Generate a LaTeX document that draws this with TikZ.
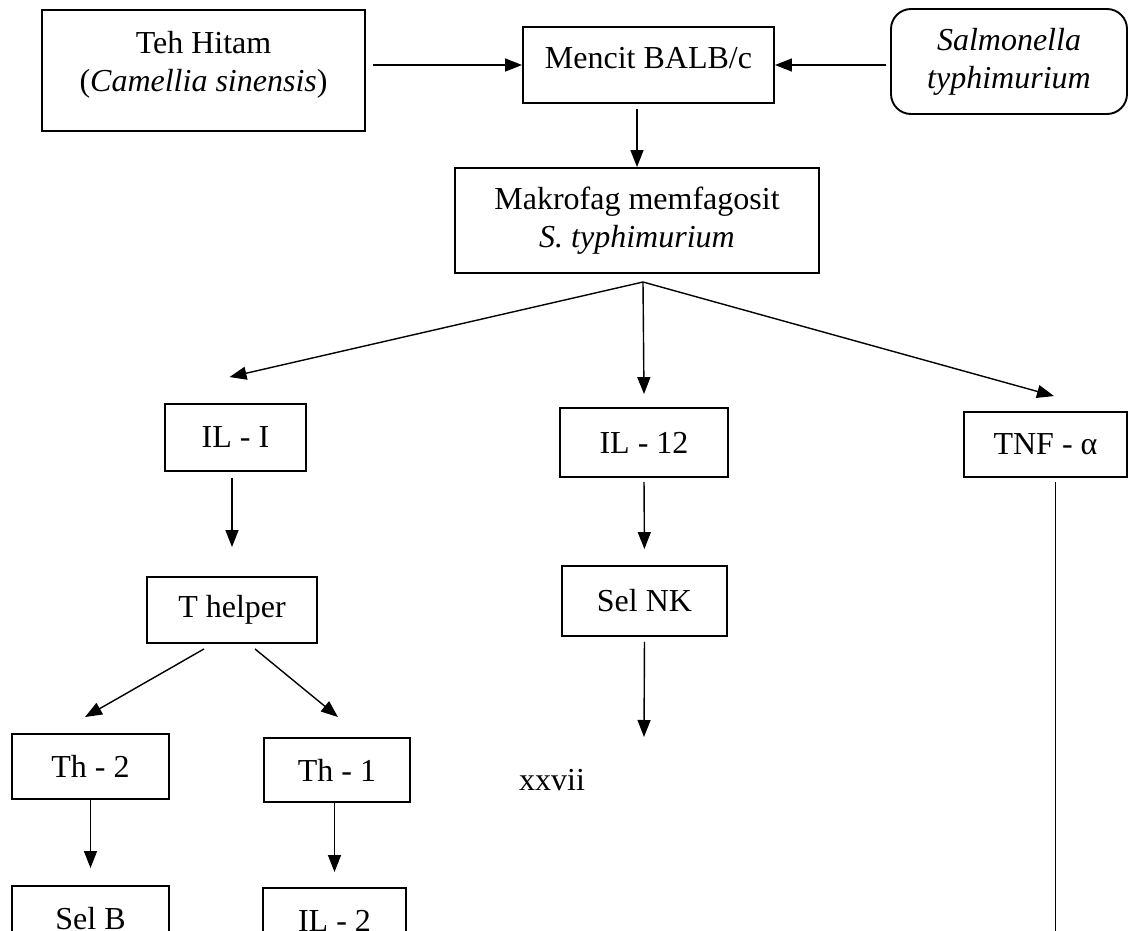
\documentclass[tikz,border=0pt]{standalone}
\usepackage{fontspec}
\setmainfont{Liberation Serif}
\usepackage{tikz}
\usetikzlibrary{shapes,arrows.meta,positioning,calc}

\begin{document}
\begin{tikzpicture}[x=1pt,y=-1pt,
  box/.style={rectangle, draw, line width=1.9pt, align=center, inner sep=0pt,
    font=\fontsize{32}{38}\selectfont},
  arr/.style={line width=1.4pt, -{Triangle[length=17pt,width=13pt]}}]
\useasboundingbox (0,0) rectangle (1128,930);
\clip (0,0) rectangle (1128,930);

\node[box, minimum width=323pt, minimum height=121pt, text depth=18pt] (teh) at (203.5,70.5) {Teh Hitam\\(\textit{Camellia sinensis})};
\node[box, minimum width=251pt, minimum height=76pt, text depth=15pt] (mencit) at (648.5,65) {Mencit BALB/c};
\node[box, rounded corners=20pt, minimum width=236pt, minimum height=105pt] (salm) at (1009,61.5) {\textit{Salmonella}\\\textit{typhimurium}};
\node[box, minimum width=364pt, minimum height=105pt] (makro) at (637,220.5) {Makrofag memfagosit\\\textit{S. typhimurium}};

\node[box, minimum width=141pt, minimum height=67pt] (il1) at (235.5,437.5) {IL - I};
\node[box, minimum width=168pt, minimum height=69pt] (il12) at (644,442.5) {IL - 12};
\node[box, minimum width=163pt, minimum height=65pt] (tnf) at (1045.5,444.5) {TNF - α};

\node[box, minimum width=170pt, minimum height=66pt] (thelp) at (232,610) {T helper};
\node[box, minimum width=165pt, minimum height=70pt] (selnk) at (644.5,601) {Sel NK};

\node[box, minimum width=157pt, minimum height=65pt] (th2) at (90.5,766.5) {Th - 2};
\node[box, minimum width=146pt, minimum height=64pt] (th1) at (337,770) {Th - 1};
\node[box, minimum width=157pt, minimum height=65pt] (selb) at (90.5,918.5) {Sel B};
\node[box, minimum width=143pt, minimum height=65pt] (il2) at (334.5,920.5) {IL - 2};

\node[font=\fontsize{32}{38}\selectfont] (page) at (552,780) {xxvii};

\coordinate (split) at (643,282);
\coordinate (nkend) at (644,737);
\coordinate (tnfend) at (1055,940);

\draw[arr, shorten <=7pt] (teh.east |- mencit.west) -- (mencit.west);
\draw[arr, shorten <=4pt] (salm.west |- mencit.east) -- (mencit.east);
\draw[arr, shorten <=5pt] (mencit.south -| makro.north) -- (makro.north);

\draw[line width=1.4pt] ([yshift=-9pt]makro.south -| split) -- (split);
\draw[arr] (split) -- ([xshift=-6pt,yshift=26pt]il1.north);
\draw[arr] (split) -- ([yshift=13pt]il12.north);
\draw[arr] (split) -- ([xshift=8.5pt,yshift=15pt]tnf.north);

\draw[arr, shorten <=6pt, shorten >=29pt] (il1.south -| thelp.north) -- (thelp.north);
\draw[arr, shorten <=4pt, shorten >=16pt] (il12.south) -- (selnk.north);
\draw[line width=1pt] ([xshift=9.5pt,yshift=-4pt]tnf.south) -- (tnfend);
\draw[arr, shorten <=5pt] (selnk.south) -- (nkend);

\draw[arr] ([xshift=-28pt,yshift=-5pt]thelp.south) -- ([xshift=-5.5pt,yshift=16pt]th2.north);
\draw[arr] ([xshift=23pt,yshift=-5pt]thelp.south) -- ([xshift=1pt,yshift=20pt]th1.north);

\draw[arr, shorten >=17pt] (th2.south) -- (selb.north);
\draw[arr, shorten >=15pt] (th1.south -| il2.north) -- (il2.north);
\end{tikzpicture}
\end{document}
